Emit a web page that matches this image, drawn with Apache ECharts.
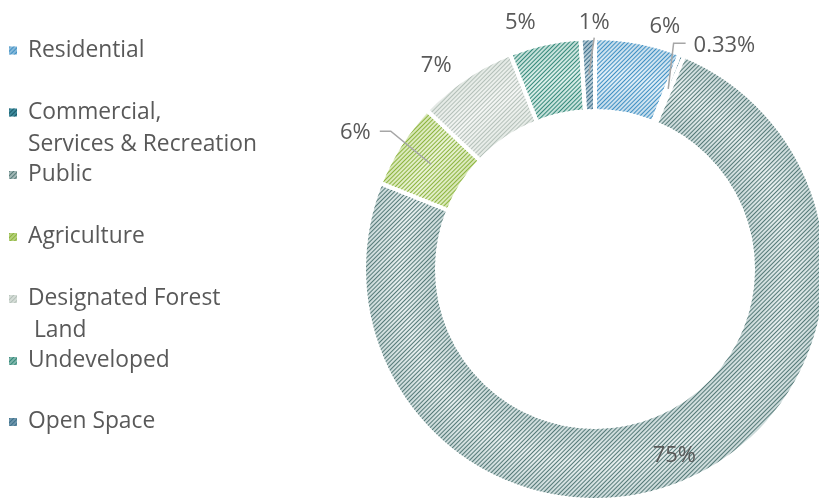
<!DOCTYPE html>
<html><head><meta charset="utf-8">
<script src="https://cdn.jsdelivr.net/npm/echarts@6/dist/echarts.min.js"></script>
<style>html,body{margin:0;padding:0;background:#fff}#c{width:819px;height:499px}</style>
</head><body><div id="c"></div>
<script>
// ---- data ----
const categories = ['Residential', 'Commercial,\nServices & Recreation', 'Public', 'Agriculture', 'Designated Forest\n Land', 'Undeveloped', 'Open Space'];
const shares = [6, 0.33, 75, 6, 7, 5, 1];

// ---- style ----
const CX = 595, CY = 269, R_IN = 158, R_OUT = 231;
const edgeFill = ['#c3dbea', '#3f8496', '#c9d8d8', '#d6e6b4', '#e3e9e4', '#c0ddd6', '#a6bfcd'];
const midFill  = ['#e0eef7', '#5a9aab', '#e6eeee', '#eaf3d6', '#f4f6f4', '#dcefea', '#c2d5df'];
const stripe   = ['#3f90c4', '#1a5767', '#557a78', '#8cb43e', '#b4c0b9', '#34897a', '#3d6f8a'];
const iconFill = ['#86b9da', '#3d8a9c', '#a3b8b7', '#b6d07c', '#d5ddd7', '#80b6ab', '#6d95ab'];
const labelShift = [[23, 4], [32, 16], [3, 5], [-24, 2], [-16, 8], [-20, -1], [7, 2]];
const leader = { 1: { side: 'left', gap: 8, run: 12 }, 3: { side: 'right', gap: 9, run: 11 }, 6: { side: 'bottom', gap: 4 } };
const legendTop = [34.5, 64.5, 159, 221, 251, 345, 406];
const TXT = '#595959';
const FONT = '"Open Sans", "Noto Sans", sans-serif';
const LINE_H = 32;

function fillFor(i) {
  const a = R_IN / R_OUT;
  return {
    type: 'radial', x: CX, y: CY, r: R_OUT, global: true,
    colorStops: [
      { offset: 0, color: edgeFill[i] },
      { offset: a, color: edgeFill[i] },
      { offset: a + (1 - a) * 0.5, color: midFill[i] },
      { offset: 1, color: edgeFill[i] }
    ]
  };
}
function decalFor(i) {
  return { symbol: 'rect', symbolSize: 1, dashArrayX: [1, 0], dashArrayY: [1, 2], rotation: -Math.PI / 4, color: stripe[i] };
}

const legends = categories.map(function (name, i) {
  return {
    orient: 'vertical', left: 9, top: legendTop[i], padding: 0,
    itemWidth: 8, itemHeight: 8, icon: 'rect', selectedMode: false,
    itemStyle: { color: iconFill[i], borderWidth: 0, decal: decalFor(i) },
    textStyle: { color: TXT, fontSize: 22.8, fontFamily: FONT, lineHeight: LINE_H, padding: [0, 0, 0, 6] },
    formatter: function (n) { return n.indexOf('\n') >= 0 ? '\n' + n : n; },
    data: [name]
  };
});

function labelLayout(p) {
  const i = p.dataIndex, sh = labelShift[i], r = p.labelRect;
  const w = r.width, h = r.height;
  if (i === 2) {
    return { x: r.x + w / 2 + sh[0], y: r.y + h / 2 + sh[1], align: 'center', verticalAlign: 'middle' };
  }
  const pts = p.labelLinePoints;
  if (!pts) return {};
  const p0 = pts[0], p1 = pts[1];
  let ux = p1[0] - p0[0], uy = p1[1] - p0[1];
  const L = Math.hypot(ux, uy) || 1; ux /= L; uy /= L;
  const ext = 6 + Math.abs(ux) * w / 2 + Math.abs(uy) * h / 2;
  const x = p0[0] + ux * ext + sh[0], y = p0[1] + uy * ext + sh[1];
  const out = { x: x, y: y, align: 'center', verticalAlign: 'middle' };
  const ld = leader[i];
  if (ld) {
    const half = (R_OUT - R_IN) / 2;
    const sx = p0[0] - ux * half, sy = p0[1] - uy * half;
    let ex, ey, tx, ty;
    if (ld.side === 'left') { ex = x - w / 2 - ld.gap; ey = y - 2; tx = ex - ld.run; ty = ey; }
    else if (ld.side === 'right') { ex = x + w / 2 + ld.gap; ey = y - 2; tx = ex + ld.run; ty = ey; }
    else { ex = x; ey = y + h / 2 + ld.gap; tx = (ex + sx) / 2; ty = (ey + sy) / 2; }
    out.labelLinePoints = [[sx, sy], [tx, ty], [ex, ey]];
  }
  return out;
}

const chart = echarts.init(document.getElementById('c'), null, { renderer: 'canvas' });
chart.setOption({
  animation: false,
  backgroundColor: '#fff',
  legend: legends,
  series: [{
    // visible ring
    type: 'pie', z: 2,
    center: [CX, CY], radius: [R_IN, R_OUT],
    startAngle: 90, clockwise: true,
    itemStyle: { borderColor: '#fff', borderWidth: 4 },
    label: { show: false }, labelLine: { show: false },
    emphasis: { disabled: true },
    data: categories.map(function (name, i) {
      return { name: name, value: shares[i], itemStyle: { color: fillFor(i), decal: decalFor(i) } };
    })
  }, {
    // transparent twin carrying the data labels and leader lines on top
    type: 'pie', z: 5, silent: true,
    center: [CX, CY], radius: [R_IN, R_OUT],
    startAngle: 90, clockwise: true,
    avoidLabelOverlap: false,
    itemStyle: { color: 'rgba(0,0,0,0)', borderWidth: 0 },
    label: { show: true, position: 'outside', formatter: '{c}%', color: TXT, fontSize: 22, fontFamily: FONT },
    labelLine: { show: true, showAbove: true, length: 10, length2: 0, lineStyle: { color: '#a6a6a6', width: 1.5 } },
    emphasis: { disabled: true },
    labelLayout: labelLayout,
    data: categories.map(function (name, i) {
      return {
        name: name, value: shares[i],
        label: i === 2 ? { position: 'inside' } : {},
        labelLine: { show: i !== 2, lineStyle: { opacity: leader[i] ? 1 : 0 } }
      };
    })
  }]
});
</script>
</body></html>
